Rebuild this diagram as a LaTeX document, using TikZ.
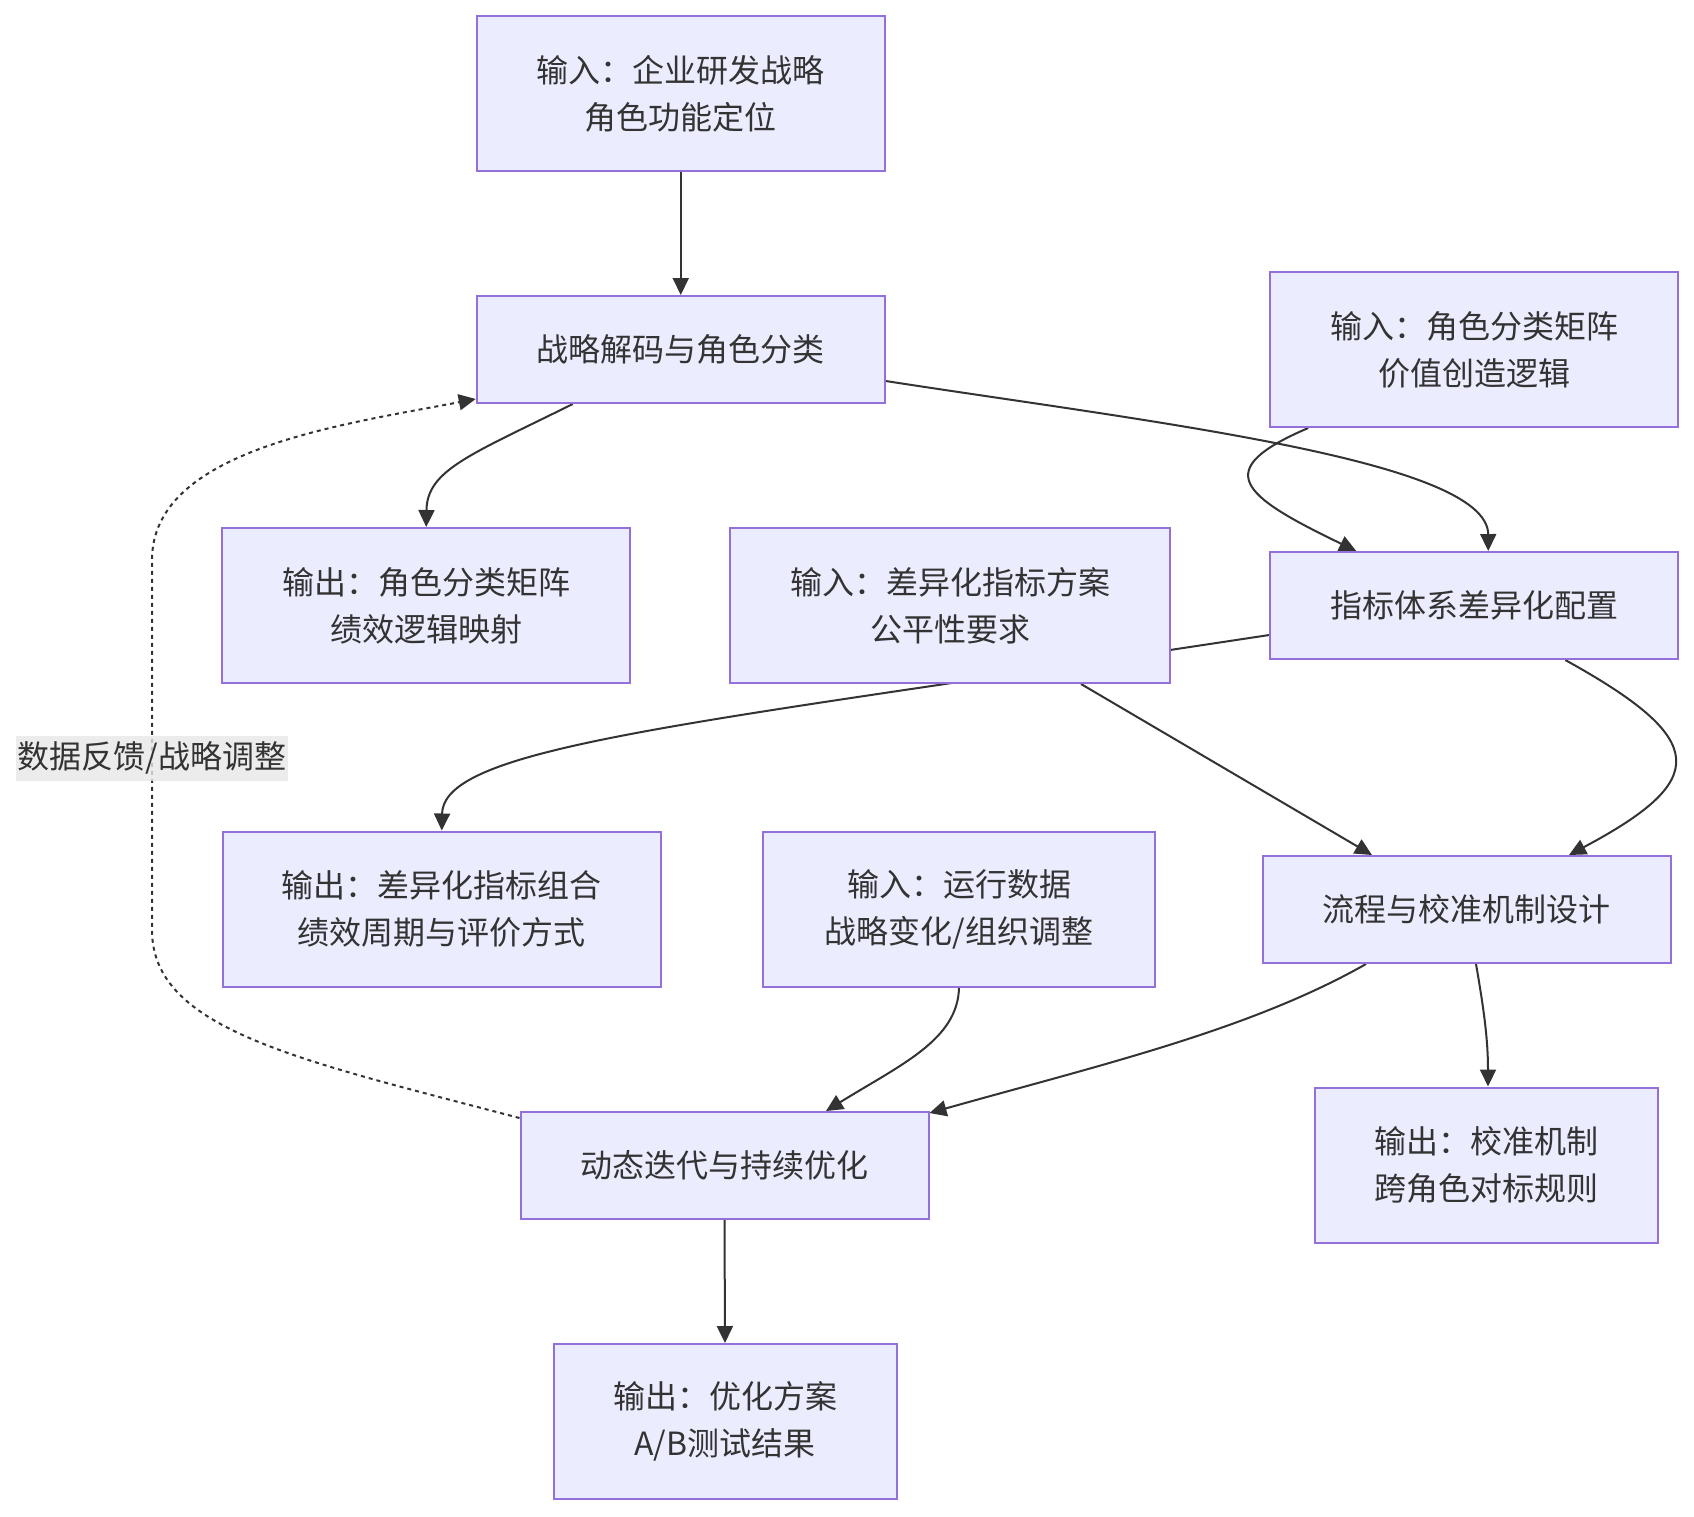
\documentclass[tikz,border=0pt]{standalone}
\usepackage{fontspec}
\setmainfont{Noto Sans CJK SC}
\usetikzlibrary{arrows.meta,calc}
\definecolor{boxfill}{HTML}{ECECFF}
\definecolor{boxline}{HTML}{9370DB}
\definecolor{ink}{HTML}{333333}
\definecolor{lblfill}{HTML}{E8E8E8}
\pgfdeclarelayer{edgelayer}
\pgfsetlayers{edgelayer,main}
\begin{document}
\begin{tikzpicture}[x=1pt,y=-1pt,
  box/.style={draw=boxline, fill=boxfill, line width=2pt, text=ink, align=center,
    inner sep=0pt, font=\fontsize{32}{47}\selectfont, minimum width=408pt},
  twoline/.style={minimum height=155pt},
  oneline/.style={minimum height=107pt},
  link/.style={draw=ink, line width=2pt, -{Triangle[length=17pt,width=16pt]}},
  fb/.style={link, dash pattern=on 4pt off 4pt},
  lbl/.style={fill=lblfill, fill opacity=0.8, text opacity=1, text=ink, inner sep=0pt,
    minimum width=272pt, minimum height=45pt, font=\fontsize{32}{40}\selectfont}
]
\useasboundingbox (0,0) rectangle (1694,1516);

\node[box,twoline] (n1) at (680.75,93.5) {输入：企业研发战略\\角色功能定位};
\node[box,oneline] (n2) at (680.75,349.5) {战略解码与角色分类};
\node[box,twoline] (n3) at (1474.25,349.5) {输入：角色分类矩阵\\价值创造逻辑};
\node[box,twoline] (n4) at (426.25,605.5) {输出：角色分类矩阵\\绩效逻辑映射};
\node[box,twoline,minimum width=440pt] (n5) at (950,605.5) {输入：差异化指标方案\\公平性要求};
\node[box,oneline] (n6) at (1474.25,605.5) {指标体系差异化配置};
\node[box,twoline,minimum width=438pt] (n7) at (441.75,909) {输出：差异化指标组合\\绩效周期与评价方式};
\node[box,twoline,minimum width=392pt] (n8) at (959,909) {输入：运行数据\\战略变化/组织调整};
\node[box,oneline] (n9) at (1466.5,909.5) {流程与校准机制设计};
\node[box,oneline] (n10) at (724.5,1165.5) {动态迭代与持续优化};
\node[box,twoline,minimum width=343pt] (n11) at (1486.5,1165) {输出：校准机制\\跨角色对标规则};
\node[box,twoline,minimum width=343pt] (n12) at (725,1421.5) {输出：优化方案\\A/B测试结果};

\begin{pgfonlayer}{edgelayer}
\fill[white] (0,0) rectangle (1694,1516);
\draw[link] (n1.south) -- (n2.north);
\draw[link] ($(n2.south)+(-108,0)$) .. controls (470,455) and (427,470) .. (n4.north);
\draw[link] ($(n2.east)+(0,31.5)$) .. controls (1150,422) and (1488,460) .. ($(n6.north)+(14,0)$);
\draw[link] ($(n3.south)+(-166,0)$) .. controls (1210,470) and (1240,495) .. ($(n6.north)+(-118,0)$);
\draw[link] ($(n6.west)+(0,29.5)$) -- ($(n5.south)+(-5,0)$) .. controls (600,735) and (443,760) .. (n7.north);
\draw[link] ($(n5.south)+(131,0)$) -- ($(n9.north)+(-94.5,0)$);
\draw[link] ($(n6.south)+(91,0)$) .. controls (1710,740) and (1710,780) .. ($(n9.north)+(102.5,0)$);
\draw[link] (n8.south) .. controls (958,1040) and (900,1065) .. ($(n10.north)+(101.5,0)$);
\draw[link] ($(n9.south)+(-100.5,0)$) .. controls (1250,1030) and (1100,1065) .. ($(n10.north east)+(0,2)$);
\draw[link] ($(n9.south)+(9.5,0)$) .. controls (1484,1010) and (1488,1040) .. ($(n11.north)+(1.5,0)$);
\draw[link] (n10.south) -- (n12.north);
\draw[fb] ($(n10.north west)+(0,7)$) .. controls (300,1060) and (152,1030) .. (152,930)
  -- (152,560) .. controls (152,450) and (340,425) .. ($(n2.south west)+(0,-5)$);
\end{pgfonlayer}

\node[lbl] (fbl) at (152,758) {数据反馈/战略调整};
\end{tikzpicture}
\end{document}
